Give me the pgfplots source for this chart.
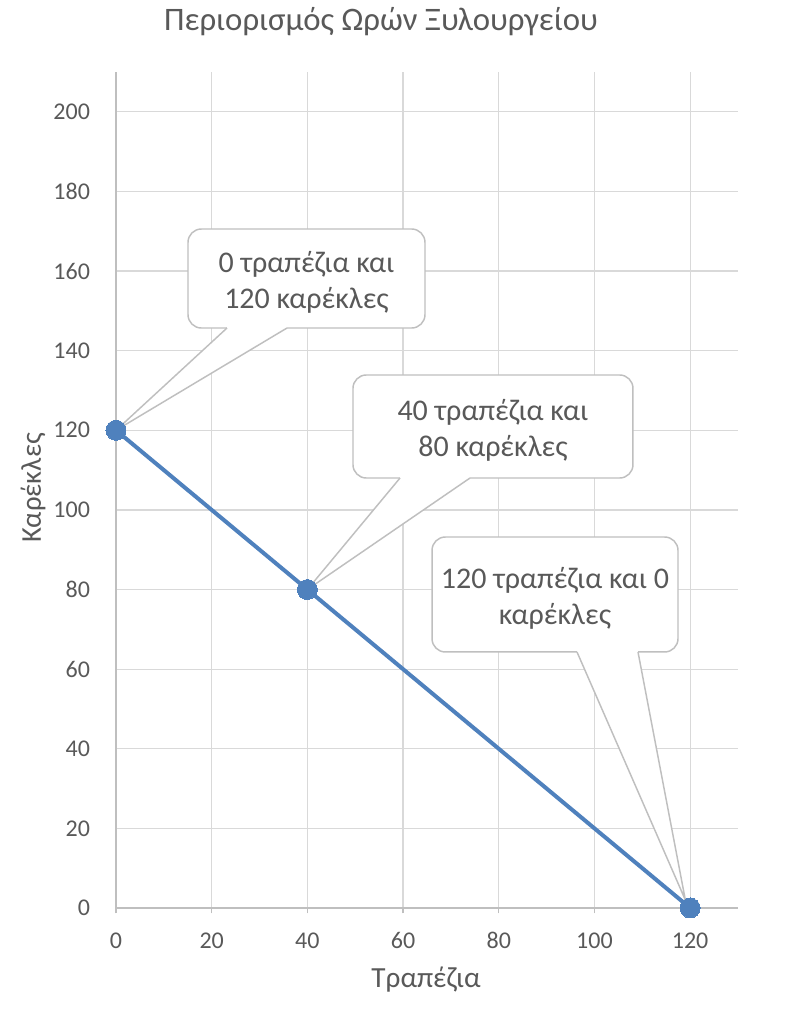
\documentclass[border=0pt]{standalone}
\usepackage{pgfplots}
\pgfplotsset{compat=1.18}
\usepackage{fontspec}
\setmainfont{Carlito}

\definecolor{txt}{HTML}{595959}
\definecolor{grd}{HTML}{D9D9D9}
\definecolor{axl}{HTML}{BFBFBF}
\definecolor{ser}{HTML}{4F81BD}
\definecolor{callb}{HTML}{BFBFBF}

\tikzset{
  callout/.style={draw=callb, fill=white, line width=1.1pt},
  calltext/.style={align=center, text=txt,
    font=\fontsize{22.5}{27.5}\selectfont, inner sep=0pt},
}

% rounded box with a wedge pointing at a data point
% #1 left, #2 top, #3 right, #4 bottom, #5/#6 wedge base, #7 tip, #8 text
\newcommand\callout[8]{%
  \filldraw[callout, rounded corners=10pt] (axis cs:#1,#4) rectangle (axis cs:#3,#2);
  \draw[white, line width=2.2pt] (axis cs:#5,#4) -- (axis cs:#6,#4);
  \filldraw[callout] (axis cs:#5,#4) -- #7 -- (axis cs:#6,#4);
  \node[calltext] at (axis cs:{(#1+#3)/2},{(#2+#4)/2-1}) {#8};
}

\begin{document}
\begin{tikzpicture}[x=0.75pt,y=0.75pt]
\useasboundingbox (0,0) rectangle (786,1025);
\begin{axis}[
  at={(87pt,87.75pt)}, anchor=south west,
  scale only axis, width=466.5pt, height=627pt,
  xmin=0, xmax=130, ymin=0, ymax=210,
  xtick={0,20,...,120}, ytick={0,20,...,200},
  axis lines=left,
  axis line style={-, draw=axl, line width=1pt},
  grid=major, grid style={draw=grd, line width=0.9pt},
  tick align=outside, major tick length=4pt,
  xtick style={draw=axl, line width=0.9pt},
  ytick style={draw=none},
  tick label style={text=txt, font=\fontsize{18}{20}\selectfont},
  xticklabel style={anchor=north, text height=11.5pt, text depth=0pt, yshift=-11pt},
  yticklabel style={xshift=-12pt},
  /pgf/number format/assume math mode=true,
  clip=false,
]
\callout{15.05}{170.56}{64.58}{145.69}{23.20}{35.74}{(axis cs:0,120)}{0 τραπέζια και\\120 καρέκλες}
\callout{49.53}{133.89}{108.05}{108.01}{59.36}{73.99}{(axis cs:40,80)}{40 τραπέζια και\\80 καρέκλες}
\callout{66.05}{93.19}{117.46}{64.31}{96.35}{109.10}{(axis cs:119,2)}{120 τραπέζια και 0\\καρέκλες}

\addplot[ser, line width=3pt, mark=*, mark size=7.5pt,
  mark options={fill=ser, draw=ser, line width=0pt}]
  coordinates {(0,120) (40,80) (120,0)};
\end{axis}

\node[text=txt, font=\fontsize{24.6}{29}\selectfont] at (381,1003) {Περιορισμός Ωρών Ξυλουργείου};
\node[text=txt, font=\fontsize{21.9}{26}\selectfont] at (426,45) {Τραπέζια};
\node[text=txt, font=\fontsize{21.5}{26}\selectfont, rotate=90] at (33,537) {Καρέκλες};
\end{tikzpicture}
\end{document}
